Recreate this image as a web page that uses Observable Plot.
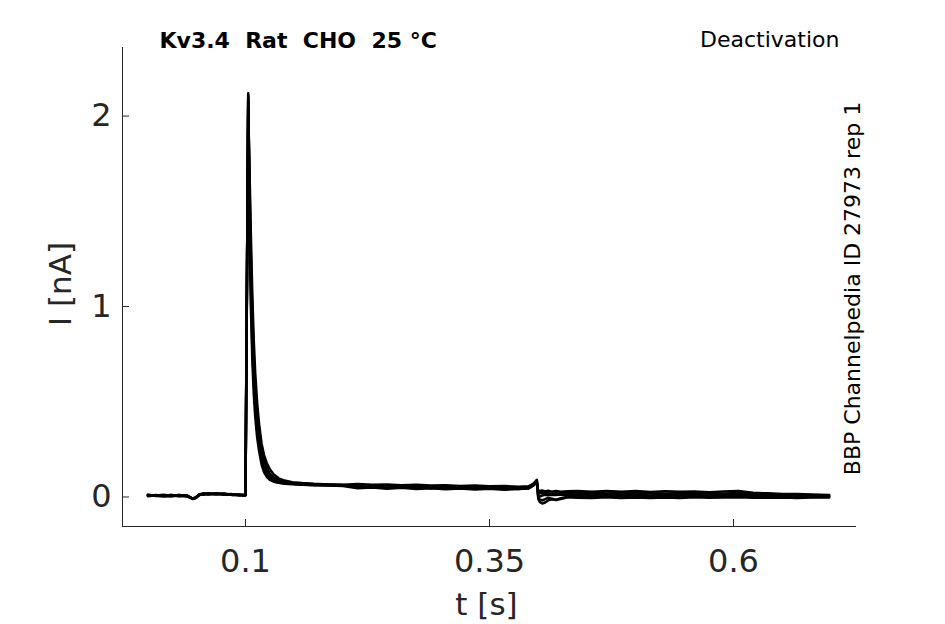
<!DOCTYPE html>
<html>
<head>
<meta charset="utf-8">
<script src="https://cdn.jsdelivr.net/npm/d3@7"></script>
<script src="https://cdn.jsdelivr.net/npm/@observablehq/plot@0.6"></script>
<style>
  html, body { margin: 0; padding: 0; background: #fff; }
  svg { display: block; }
</style>
</head>
<body>
<div id="chart"></div>
<script>
// time samples [s]
const timeS = [
  0, 0.008, 0.016, 0.024, 0.032, 0.04, 0.043, 0.046, 0.049, 0.053, 0.057, 0.062, 0.07, 0.078, 0.086, 0.094, 0.0998,
  0.1, 0.1028,
  0.104, 0.1055, 0.107, 0.1085, 0.110, 0.112, 0.114, 0.1165, 0.119, 0.122, 0.125, 0.129, 0.134, 0.14, 0.148, 0.158, 0.17, 0.185, 0.2,
  0.215, 0.23, 0.245, 0.26, 0.275, 0.29, 0.305, 0.32, 0.335, 0.35, 0.365, 0.38, 0.39, 0.395, 0.3985,
  0.4, 0.4015, 0.404, 0.407, 0.41, 0.414, 0.418, 0.423, 0.43,
  0.44, 0.455, 0.47, 0.485, 0.5, 0.515, 0.53, 0.545, 0.56, 0.575, 0.59, 0.605, 0.62, 0.635, 0.65, 0.665, 0.68, 0.698
];

// current of each sweep [nA]
const sweepA = [
  0.011, 0.008, 0.012, 0.007, 0.010, 0.006, -0.002, -0.009, -0.004, 0.012, 0.018, 0.016, 0.019, 0.014, 0.015, 0.012, 0.011,
  0.011, 2.12,
  1.45, 1.00, 0.72, 0.54, 0.42, 0.31, 0.24, 0.17, 0.13, 0.105, 0.09, 0.08, 0.074, 0.07, 0.067, 0.064, 0.062, 0.060, 0.058,
  0.046, 0.050, 0.043, 0.048, 0.042, 0.046, 0.040, 0.045, 0.039, 0.043, 0.038, 0.042, 0.044, 0.060, 0.076,
  0.030, 0.032, 0.034, 0.029, 0.033, 0.028, 0.031, 0.027, 0.030,
  0.031, 0.027, 0.032, 0.028, 0.031, 0.026, 0.030, 0.027, 0.029, 0.025, 0.029, 0.031, 0.022, 0.019, 0.016, 0.015, 0.013, 0.011
];
const sweepB = [
  0.007, 0.011, 0.006, 0.010, 0.005, 0.008, 0.000, -0.011, -0.006, 0.010, 0.015, 0.019, 0.015, 0.017, 0.011, 0.013, 0.008,
  0.009, 2.11,
  1.55, 1.10, 0.80, 0.60, 0.47, 0.35, 0.27, 0.19, 0.15, 0.115, 0.095, 0.083, 0.076, 0.072, 0.069, 0.066, 0.063, 0.061, 0.060,
  0.056, 0.050, 0.054, 0.048, 0.052, 0.046, 0.050, 0.044, 0.048, 0.043, 0.047, 0.042, 0.048, 0.063, 0.081,
  0.018, 0.020, 0.022, 0.018, 0.021, 0.017, 0.020, 0.018, 0.021,
  0.021, 0.023, 0.018, 0.022, 0.019, 0.021, 0.017, 0.021, 0.018, 0.020, 0.017, 0.022, 0.015, 0.013, 0.011, 0.010, 0.008, 0.007
];
const sweepC = [
  0.012, 0.005, 0.008, 0.011, 0.007, 0.003, -0.003, -0.008, -0.002, 0.014, 0.019, 0.013, 0.018, 0.012, 0.014, 0.008, 0.012,
  0.012, 2.10,
  1.62, 1.18, 0.88, 0.66, 0.52, 0.39, 0.30, 0.22, 0.17, 0.13, 0.105, 0.09, 0.08, 0.075, 0.071, 0.068, 0.065, 0.063, 0.062,
  0.062, 0.058, 0.061, 0.056, 0.058, 0.054, 0.056, 0.052, 0.054, 0.050, 0.052, 0.049, 0.053, 0.067, 0.086,
  0.006, 0.002, 0.008, 0.011, 0.009, 0.012, 0.010, 0.013, 0.011,
  0.012, 0.009, 0.013, 0.010, 0.012, 0.008, 0.012, 0.009, 0.011, 0.008, 0.011, 0.013, 0.008, 0.007, 0.006, 0.005, 0.005, 0.004
];
const sweepD = [
  0.004, 0.009, 0.005, 0.003, 0.010, 0.004, -0.001, -0.010, -0.005, 0.011, 0.016, 0.017, 0.013, 0.018, 0.011, 0.010, 0.007,
  0.008, 2.08,
  1.68, 1.28, 0.97, 0.74, 0.58, 0.44, 0.34, 0.25, 0.19, 0.15, 0.122, 0.102, 0.088, 0.079, 0.074, 0.070, 0.067, 0.065, 0.063,
  0.052, 0.057, 0.051, 0.055, 0.049, 0.053, 0.047, 0.051, 0.045, 0.049, 0.043, 0.047, 0.046, 0.062, 0.079,
  -0.010, -0.026, -0.034, -0.029, -0.018, -0.012, -0.016, -0.006, 0.001,
  0.003, 0.006, 0.002, 0.005, 0.003, 0.006, 0.002, 0.005, 0.003, 0.006, 0.004, 0.007, 0.003, 0.002, 0.001, 0.002, 0.000, 0.001
];
const sweepE = [
  0.010, 0.006, 0.003, 0.008, 0.004, 0.008, -0.003, -0.008, -0.003, 0.015, 0.012, 0.015, 0.016, 0.015, 0.012, 0.011, 0.012,
  0.011, 2.05,
  1.75, 1.38, 1.06, 0.82, 0.65, 0.49, 0.38, 0.28, 0.22, 0.175, 0.145, 0.118, 0.098, 0.086, 0.078, 0.073, 0.069, 0.066, 0.064,
  0.068, 0.064, 0.066, 0.062, 0.064, 0.060, 0.062, 0.058, 0.060, 0.056, 0.058, 0.054, 0.056, 0.070, 0.090,
  -0.006, -0.013, -0.018, -0.011, -0.005, -0.009, -0.015, -0.011, -0.002,
  -0.004, -0.006, -0.002, -0.005, -0.003, -0.006, -0.003, -0.005, -0.002, -0.004, -0.003, -0.001, -0.004, -0.004, -0.003, -0.005, -0.003, -0.003
];

const sweepNames = ["A", "B", "C", "D", "E"];
const sweepValues = [sweepA, sweepB, sweepC, sweepD, sweepE];

const xTicks = [0.1, 0.35, 0.6];
const yTicks = [0, 1, 2];
const xDomain = [-0.026, 0.726];
const yDomain = [-0.155, 2.36];

const titleText = "Kv3.4  Rat  CHO  25 °C";
const protocolText = "Deactivation";
const idText = "BBP Channelpedia ID 27973 rep 1";
const xLabel = "t [s]";
const yLabel = "I [nA]";

const data = sweepNames.flatMap((name, k) =>
  sweepValues[k].map((v, i) => ({sweep: name, t: timeS[i], I: v}))
);

const ink = "#262626";
const chart = Plot.plot({
  width: 945,
  height: 624,
  marginLeft: 122,
  marginRight: 89,
  marginTop: 47,
  marginBottom: 98,
  style: {fontFamily: "DejaVu Sans", background: "white", overflow: "visible", color: ink},
  x: {domain: xDomain, label: null},
  y: {domain: yDomain, label: null},
  marks: [
    Plot.ruleY([yDomain[0]], {stroke: ink, strokeWidth: 1}),
    Plot.ruleX([xDomain[0]], {stroke: ink, strokeWidth: 1}),
    Plot.axisX(xTicks, {tickSize: -7, fill: "none", stroke: ink, label: null}),
    Plot.axisX(xTicks, {tickSize: 0, tickPadding: 23, fontSize: 32, fill: ink, label: null, tickFormat: d => String(d)}),
    Plot.axisY(yTicks, {tickSize: -7, fill: "none", stroke: ink, label: null}),
    Plot.axisY(yTicks, {tickSize: 0, tickPadding: 11, fontSize: 32, fill: ink, label: null, tickFormat: d => String(d)}),
    Plot.line(data, {x: "t", y: "I", z: "sweep", stroke: "black", strokeWidth: 2.5, strokeLinejoin: "round"}),
    Plot.text([titleText], {text: d => d, frameAnchor: "top-left", dx: 37, dy: 0, lineAnchor: "bottom", textAnchor: "start", fontWeight: "bold", fontSize: 22, fill: "black"}),
    Plot.text([protocolText], {text: d => d, frameAnchor: "top-right", dx: -17, dy: -1, lineAnchor: "bottom", textAnchor: "end", fontSize: 22, fill: "black"}),
    Plot.text([idText], {text: d => d, frameAnchor: "right", dx: 3, dy: 1.5, rotate: -90, lineAnchor: "bottom", textAnchor: "middle", fontSize: 22, fill: "black"}),
    Plot.text([xLabel], {text: d => d, frameAnchor: "bottom", dx: -3, dy: 88, lineAnchor: "bottom", textAnchor: "middle", fontSize: 31, fill: ink}),
    Plot.text([yLabel], {text: d => d, frameAnchor: "left", dx: -52, dy: -3, rotate: -90, lineAnchor: "bottom", textAnchor: "middle", fontSize: 31, fill: ink})
  ]
});
document.getElementById("chart").appendChild(chart);
</script>
</body>
</html>
